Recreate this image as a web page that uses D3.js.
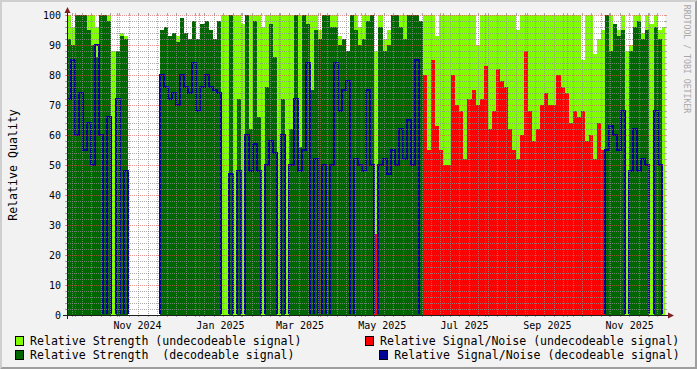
<!DOCTYPE html>
<html><head><meta charset="utf-8">
<script src="https://cdn.jsdelivr.net/npm/d3@7"></script>
<style>html,body{margin:0;padding:0;background:#F2F2F2;}svg{display:block;}</style>
</head><body><svg id="c" width="697" height="369"></svg>
<script>
// ---- data (3-day bins starting at startTime) ----
const startTime = "2024-09-25T02:00:00Z";
const endTime = "2025-12-12T14:00:00Z";
const binDays = 3;
const strengthUndecodeable = [100,96,100,100,100,100,100,96,100,100,100,88,88,94,93,
 null,null,null,null,null,null,null,null,
 95,96,93,94,93,99,94,92,98,92,97,98,95,92,98,
 100,
 100,100,100,100,97,100,100,100,100,96,100,100,100,100,100,100,100,100,100,100,100,100,100,95,100,100,100,100,93,92,88,100,100,96,100,100,100,88,100,92,95,100,100,100,100,100,100,100,98,
 100,100,100,93,100,100,100,100,100,100,100,100,100,90,100,100,100,100,100,100,100,100,100,95,100,100,100,100,100,100,100,100,100,100,100,100,100,100,100,85,100,100,87,92,95,
 100,100,97,95,100,88,90,100,100,94,100,97,100,95,96];
const strengthDecodeable = [92,90,100,100,100,95,90,86,100,100,98,0,88,93,92,
 null,null,null,null,null,null,null,null,
 95,96,93,94,91,99,94,92,98,92,97,98,95,92,98,
 0,
 0,100,0,72,0,100,62,98,66,0,76,97,86,0,72,0,62,100,56,100,97,75,95,92,100,100,96,96,90,92,88,100,95,90,92,98,100,0,96,88,90,100,100,96,92,100,100,100,98,
 null,null,null,null,null,null,null,null,null,null,null,null,null,null,null,null,null,null,null,null,null,null,null,null,null,null,null,null,null,null,null,null,null,null,null,null,null,null,null,null,null,null,null,null,null,
 100,88,97,93,95,0,88,96,98,92,95,0,96,92,0];
const snrUndecodeable = [null,null,null,null,null,null,null,null,null,null,null,null,null,null,null,null,null,null,null,null,
 null,null,null,null,null,null,null,null,null,null,null,null,null,null,null,null,null,null,null,null,
 null,null,null,null,null,null,null,null,null,null,null,null,null,null,null,null,null,null,null,null,
 null,null,null,null,null,null,null,null,null,null,null,null,null,null,null,null,
 27,
 null,null,null,null,null,null,null,null,null,null,null,
 80,55,85,63,55,50,50,80,70,68,52,72,75,70,72,83,62,68,82,78,76,62,55,52,60,88,68,58,62,70,74,70,70,80,76,74,64,68,66,68,58,60,52,64,55,
 null,null,null,null,null,null,null,null,null,null,null,null,null,null,null];
const snrDecodeable = [72,85,60,74,55,64,50,90,60,0,66,0,72,0,48,
 0,null,null,null,null,null,null,0,
 80,76,72,74,70,80,76,74,84,68,76,80,76,75,74,
 0,
 0,47,0,48,0,60,48,57,48,0,50,58,54,0,60,0,50,72,48,55,84,0,52,0,50,0,50,84,68,75,78,0,52,50,48,75,50,0,50,52,47,55,50,62,52,65,50,85,0,
 null,null,null,null,null,null,null,null,null,null,null,null,null,null,null,null,null,null,null,null,null,null,null,null,null,null,null,null,null,null,null,null,null,null,null,null,null,null,null,null,null,null,null,null,0,
 55,63,60,55,68,0,48,62,48,52,50,0,68,50,0];
const yTickValues = [0,10,20,30,40,50,60,70,80,90,100];
const yTitle = "Relative Quality";
const watermark = "RRDTOOL / TOBI OETIKER";
const legendItems = [
 {label:"Relative Strength (undecodeable signal)", key:"lg"},
 {label:"Relative Signal/Noise (undecodeable signal)", key:"rd"},
 {label:"Relative Strength  (decodeable signal)", key:"dg"},
 {label:"Relative Signal/Noise (decodeable signal)", key:"bl"}];

// ---- styles ----
const COL = {lg:"#80FF00", dg:"#006600", rd:"#FF0000", bl:"#000099"};
const W = 697, H = 369, X0 = 67, X1 = 665, Y0 = 315, Y1 = 15;
const FONT = "'DejaVu Sans Mono', monospace";

const svg = d3.select("#c");
const t0 = new Date(startTime), t1 = new Date(endTime);
const x = d3.scaleUtc().domain([t0, t1]).range([X0, X1]);
const y = d3.scaleLinear().domain([0, 100]).range([Y0, Y1]);
const DAY = 864e5;
const binStart = i => new Date(+t0 + i * binDays * DAY);
function stepPoints(arr) {
  const pts = [];
  arr.forEach((v, i) => { pts.push({t: binStart(i), v}); pts.push({t: binStart(i + 1), v}); });
  return pts;
}

// background + bevel
svg.append("rect").attr("width", W).attr("height", H).attr("fill", "#F2F2F2");
svg.append("path").attr("d", `M0,0H${W}L${W-2},2H2V${H-2}L0,${H}Z`).attr("fill", "#CFCFCF");
svg.append("path").attr("d", `M${W},0V${H}H0L2,${H-2}H${W-2}V2Z`).attr("fill", "#9E9E9E");
svg.append("rect").attr("x", X0).attr("y", Y1).attr("width", X1 - X0).attr("height", Y0 - Y1).attr("fill", "#FFFFFF");

const defs = svg.append("defs");
defs.append("clipPath").attr("id", "cp").append("rect").attr("x", X0).attr("y", Y1).attr("width", X1 - X0).attr("height", Y0 - Y1);
defs.append("clipPath").attr("id", "cpl").append("rect").attr("x", X0).attr("y", Y1 - 2).attr("width", X1 - X0).attr("height", Y0 - Y1 + 1);

const plot = svg.append("g").attr("clip-path", "url(#cp)");
const area = d3.area().defined(d => d.v != null).x(d => x(d.t)).y0(y(0)).y1(d => y(d.v));
[["lg", strengthUndecodeable], ["dg", strengthDecodeable], ["rd", snrUndecodeable]].forEach(([k, arr]) => {
  plot.append("path").datum(stepPoints(arr)).attr("d", area).attr("fill", COL[k]).attr("shape-rendering", "crispEdges");
});
const line = d3.line().defined(d => d.v != null).x(d => x(d.t)).y(d => y(d.v));
svg.append("g").attr("clip-path", "url(#cpl)").append("path").datum(stepPoints(snrDecodeable))
  .attr("d", line).attr("fill", "none").attr("stroke", COL.bl).attr("stroke-width", 2).attr("shape-rendering", "crispEdges");

// grid
const GRID = "rgba(143,143,143,0.75)", MGRID = "rgba(222,79,79,0.6)";
const grid = svg.append("g").attr("shape-rendering", "crispEdges").attr("stroke-width", 1);
function hLine(v, col) {
  const yy = Math.round(y(v)) + 0.5;
  grid.append("line").attr("x1", X0 - 2).attr("x2", X0).attr("y1", yy).attr("y2", yy).attr("stroke", col);
  grid.append("line").attr("x1", X1).attr("x2", X1 + 2).attr("y1", yy).attr("y2", yy).attr("stroke", col);
  grid.append("line").attr("x1", X0 - 1).attr("x2", X1 + 1).attr("y1", yy).attr("y2", yy).attr("stroke", col).attr("stroke-dasharray", "1,1");
}
function vLine(t, col) {
  const xx = Math.round(x(t)) + 0.5;
  grid.append("line").attr("x1", xx).attr("x2", xx).attr("y1", Y0).attr("y2", Y0 + 2).attr("stroke", col);
  grid.append("line").attr("x1", xx).attr("x2", xx).attr("y1", Y1 - 2).attr("y2", Y1).attr("stroke", col);
  grid.append("line").attr("x1", xx).attr("x2", xx).attr("y1", Y0 + 1).attr("y2", Y1 - 1).attr("stroke", col).attr("stroke-dasharray", "1,1");
}
d3.range(0, 101, 2).filter(v => v % 10 !== 0).forEach(v => hLine(v, GRID));
const months = d3.utcMonth.range(t0, t1);
const monthSet = new Set(months.map(d => +d));
d3.utcSunday.range(t0, t1).filter(d => !monthSet.has(+d)).forEach(d => vLine(d, GRID));
yTickValues.forEach(v => hLine(v, MGRID));
months.forEach(d => vLine(d, MGRID));

// axes lines + arrows
const AX = "#1F1F1F", ARROW = "#802020";
svg.append("line").attr("x1", X0 - 4).attr("x2", X1 + 4).attr("y1", Y0 + 0.5).attr("y2", Y0 + 0.5).attr("stroke", AX).attr("shape-rendering", "crispEdges");
svg.append("line").attr("x1", X0 + 0.5).attr("x2", X0 + 0.5).attr("y1", Y0 + 4).attr("y2", Y1 - 4).attr("stroke", AX).attr("shape-rendering", "crispEdges");
svg.append("path").attr("d", `M${X1+3},${Y0-2.5}L${X1+3},${Y0+3.5}L${X1+9},${Y0+0.5}Z`).attr("fill", ARROW);
svg.append("path").attr("d", `M${X0-2.5},${Y1-2}L${X0+3.5},${Y1-2}L${X0+0.5},${Y1-8}Z`).attr("fill", ARROW);

// axis labels through d3 axes
const yAx = svg.append("g").attr("transform", `translate(${X0},0)`)
  .call(d3.axisLeft(y).tickValues(yTickValues).tickSize(0).tickPadding(6).tickFormat(d3.format("d")));
yAx.select(".domain").remove();
yAx.selectAll("text").attr("font-family", FONT).attr("font-size", 10).attr("fill", "#000");
const labelDates = d3.utcMonth.every(2).range(t0, t1).map(d => new Date((+d + +d3.utcMonth.offset(d, 1)) / 2));
const xAx = svg.append("g").attr("transform", `translate(0,${Y0})`)
  .call(d3.axisBottom(x).tickValues(labelDates).tickSize(0).tickPadding(6.5).tickFormat(d => d3.utcFormat("%b %Y")(d3.utcMonth.floor(d))));
xAx.select(".domain").remove();
xAx.selectAll("text").attr("font-family", FONT).attr("font-size", 10).attr("fill", "#000");

// y title
svg.append("text").attr("transform", `translate(16.5,${(Y0 + Y1) / 2}) rotate(-90)`)
  .attr("text-anchor", "middle").attr("font-family", FONT).attr("font-size", 11.6).attr("fill", "#000").text(yTitle);
// watermark
svg.append("text").attr("transform", `translate(683.5,59) rotate(90)`)
  .attr("text-anchor", "middle").attr("font-family", FONT).attr("font-size", 8.2).attr("fill", "#A8A8A8").text(watermark);

// legend
const legPos = [{bx:15.5, by:336.5, tx:30, ty:345}, {bx:365.5, by:336.5, tx:380, ty:345},
                {bx:15.5, by:350.5, tx:30, ty:359}, {bx:379.5, by:350.5, tx:394.3, ty:359}];
const leg = svg.append("g");
legendItems.forEach((it, i) => {
  const p = legPos[i];
  leg.append("rect").attr("x", p.bx).attr("y", p.by).attr("width", 8).attr("height", 9)
    .attr("fill", COL[it.key]).attr("stroke", "#000").attr("stroke-width", 1).attr("shape-rendering", "crispEdges");
  leg.append("text").attr("x", p.tx).attr("y", p.ty).attr("font-family", FONT).attr("font-size", 11.57)
    .attr("fill", "#000").attr("xml:space", "preserve").style("white-space", "pre").text(it.label);
});
</script></body></html>
